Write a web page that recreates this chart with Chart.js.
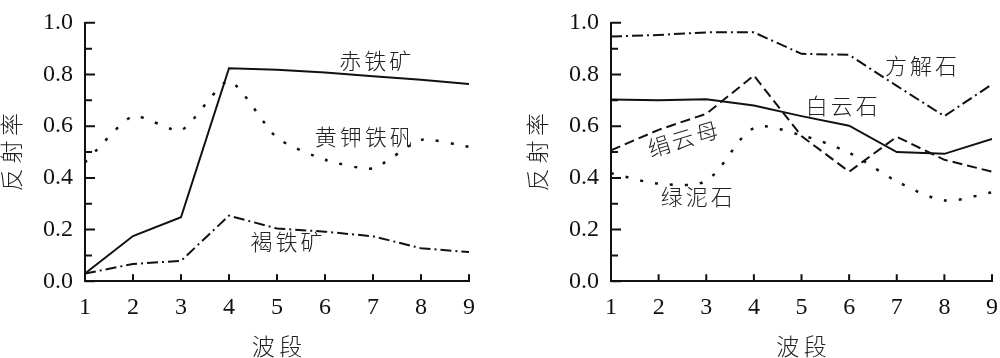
<!DOCTYPE html>
<html>
<head>
<meta charset="utf-8">
<script src="https://cdn.jsdelivr.net/npm/chart.js@4.4.0/dist/chart.umd.min.js"></script>
<style>
  html, body { margin: 0; padding: 0; background: #fff; overflow: hidden; }
  #wrap { position: relative; width: 1000px; height: 358px; overflow: hidden; }
  #graph1 { position: absolute; left: 0; top: 0; }
  #graph2 { position: absolute; left: 500px; top: 0; }
</style>
</head>
<body>
<div id="wrap">
  <canvas id="graph1" width="500" height="358"></canvas>
  <canvas id="graph2" width="510" height="358"></canvas>
</div>
<script>
// bands on the x axis
const bands = [1, 2, 3, 4, 5, 6, 7, 8, 9];

// left panel
const hematite = [0.03, 0.175, 0.248, 0.824, 0.818, 0.808, 0.793, 0.78, 0.763];   // 赤铁矿
const jarosite = [0.46, 0.639, 0.584, 0.775, 0.555, 0.47, 0.437, 0.547, 0.52];    // 黄钾铁矾
const goethite = [0.03, 0.067, 0.079, 0.254, 0.204, 0.192, 0.174, 0.128, 0.113];  // 褐铁矿

// right panel
const calcite  = [0.947, 0.953, 0.963, 0.963, 0.88, 0.876, 0.756, 0.639, 0.762];  // 方解石
const dolomite = [0.703, 0.70, 0.704, 0.68, 0.639, 0.602, 0.50, 0.493, 0.551];     // 白云石
const sericite = [0.507, 0.586, 0.648, 0.796, 0.562, 0.424, 0.559, 0.47, 0.424];   // 绢云母
const chlorite = [0.418, 0.378, 0.389, 0.593, 0.565, 0.497, 0.387, 0.313, 0.344];  // 绿泥石

const serif = "'Liberation Serif', 'DejaVu Serif', serif";
const cjk = "'Noto Sans CJK SC', sans-serif";

const pts = vals => bands.map((b, i) => ({ x: b, y: vals[i] }));

const solid   = [];
const dotted  = [3, 12];
const dashed  = [10, 5];
const dashDot = [11, 4, 2, 4];

function line(vals, dash, tension, width) {
    return {
        data: pts(vals),
        borderColor: '#111',
        borderWidth: width || 2,
        borderDash: dash,
        pointRadius: 0,
        tension: tension || 0,
        fill: false
    };
}

// inner tick marks on both axes
const innerTicks = {
    id: 'innerTicks',
    afterDraw(chart) {
        const { ctx, chartArea, scales: { x, y } } = chart;
        ctx.save();
        ctx.strokeStyle = '#111';
        ctx.lineWidth = 2;
        ctx.beginPath();
        y.ticks.forEach(t => {
            const py = y.getPixelForValue(t.value);
            const len = Math.round(t.value * 10) % 2 === 0 ? 10 : 7;
            ctx.moveTo(chartArea.left, py);
            ctx.lineTo(chartArea.left + len, py);
        });
        x.ticks.forEach(t => {
            const px = x.getPixelForValue(t.value);
            ctx.moveTo(px, chartArea.bottom);
            ctx.lineTo(px, chartArea.bottom - 7);
        });
        ctx.stroke();
        ctx.restore();
    }
};

// curve names written next to the lines, placed in data units
const curveNames = {
    id: 'curveNames',
    afterDatasetsDraw(chart, args, opts) {
        const { ctx, scales: { x, y } } = chart;
        ctx.save();
        ctx.fillStyle = '#222';
        ctx.font = '300 22px ' + cjk;
        ctx.textAlign = 'center';
        ctx.textBaseline = 'middle';
        if ('letterSpacing' in ctx) ctx.letterSpacing = '3px';
        (opts.items || []).forEach(n => {
            ctx.save();
            ctx.translate(x.getPixelForValue(n.x), y.getPixelForValue(n.y));
            ctx.rotate((n.rot || 0) * Math.PI / 180);
            ctx.fillText(n.text, 0, 0);
            ctx.restore();
        });
        ctx.restore();
    }
};

function options(yWidth, yTitlePad, rightPad, names) {
    return {
        responsive: false,
        animation: false,
        layout: { padding: { left: 0, right: rightPad, top: 10.7, bottom: 0 } },
        scales: {
            x: {
                type: 'linear',
                min: 1,
                max: 9,
                afterFit: s => { s.height = 76.7; },
                ticks: {
                    stepSize: 1,
                    padding: 12,
                    color: '#111',
                    font: { family: serif, size: 24 }
                },
                grid: { display: true, drawOnChartArea: false, drawTicks: false },
                border: { display: true, color: '#111', width: 2 },
                title: {
                    display: true,
                    text: '波\u2009段',
                    color: '#222',
                    font: { family: cjk, size: 23, weight: 300, lineHeight: 1 },
                    padding: { top: 0, bottom: 0 }
                }
            },
            y: {
                min: 0,
                max: 1,
                afterFit: s => { s.width = yWidth; },
                ticks: {
                    stepSize: 0.1,
                    autoSkip: false,
                    padding: 12,
                    color: '#111',
                    font: { family: serif, size: 24, lineHeight: 0.9 },
                    callback: v => Math.round(v * 10) % 2 === 0 ? v.toFixed(1) : ''
                },
                grid: { display: true, drawOnChartArea: false, drawTicks: false },
                border: { display: true, color: '#111', width: 2 },
                title: {
                    display: true,
                    text: '反\u2009射\u2009率',
                    color: '#222',
                    font: { family: cjk, size: 23, weight: 300, lineHeight: 1 },
                    padding: { top: yTitlePad, bottom: 0 }
                }
            }
        },
        plugins: {
            legend: { display: false },
            tooltip: { enabled: false },
            curveNames: { items: names }
        }
    };
}

const chart1 = document.getElementById('graph1').getContext('2d');
const myChart1 = new Chart(chart1, {
    type: 'line',
    data: {
        datasets: [
            line(hematite, solid),
            line(jarosite, dotted, 0.2, 2.5),
            line(goethite, dashDot)
        ]
    },
    options: options(85, 0, 31, [
        { text: '赤铁矿', x: 7.08, y: 0.855 },
        { text: '黄钾铁矾', x: 6.83, y: 0.559 },
        { text: '褐铁矿', x: 5.23, y: 0.153 }
    ]),
    plugins: [innerTicks, curveNames]
});

const chart2 = document.getElementById('graph2').getContext('2d');
const myChart2 = new Chart(chart2, {
    type: 'line',
    data: {
        datasets: [
            line(calcite, dashDot),
            line(dolomite, solid),
            line(sericite, dashed),
            line(chlorite, dotted, 0.3, 2.5)
        ]
    },
    options: options(111, 25.5, 15, [
        { text: '方解石', x: 7.54, y: 0.836 },
        { text: '白云石', x: 5.875, y: 0.681 },
        { text: '绢云母', x: 2.54, y: 0.552, rot: -17 },
        { text: '绿泥石', x: 2.83, y: 0.326 }
    ]),
    plugins: [innerTicks, curveNames]
});
</script>
</body>
</html>
